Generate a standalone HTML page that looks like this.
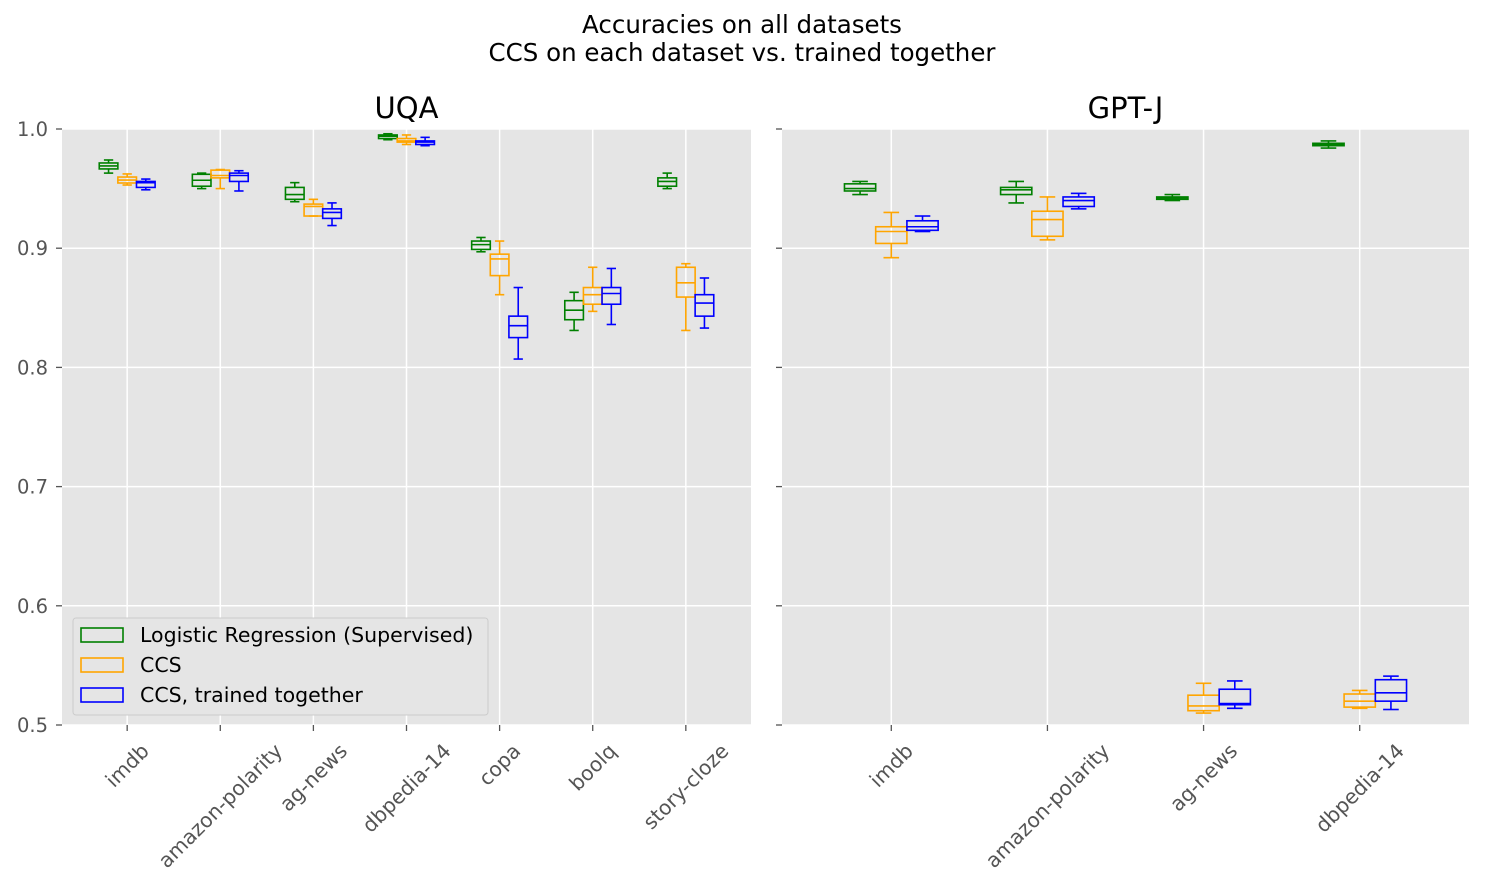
<!DOCTYPE html>
<html><head><meta charset="utf-8"><style>
body{margin:0;background:#fff;}
svg text{font-family:"DejaVu Sans","Liberation Sans",sans-serif;}
</style></head><body>
<svg id="chart" width="1485" height="889" xmlns="http://www.w3.org/2000/svg"></svg>
<script>
const uqaCategories=["imdb","amazon-polarity","ag-news","dbpedia-14","copa","boolq","story-cloze"];
const gptjCategories=["imdb","amazon-polarity","ag-news","dbpedia-14"];
const seriesNames=["Logistic Regression (Supervised)","CCS","CCS, trained together"];
const seriesColors=["green","orange","blue"];
const yTicks=[0.5,0.6,0.7,0.8,0.9,1.0];
const yTickLabels=["0.5","0.6","0.7","0.8","0.9","1.0"];
// [whiskerLow, q1, median, q3, whiskerHigh]
const uqaLR=[[.963,.9665,.969,.9715,.974],[.950,.952,.957,.962,.963],[.939,.941,.945,.951,.955],[.991,.992,.994,.995,.996],[.897,.899,.903,.906,.909],[.831,.840,.848,.856,.863],[.950,.952,.956,.959,.963]];
const uqaCCS=[[.953,.9547,.9572,.9597,.9623],[.950,.959,.961,.9655,.966],[.927,.927,.935,.937,.941],[.987,.989,.990,.992,.995],[.861,.877,.891,.895,.906],[.847,.853,.861,.867,.884],[.831,.859,.871,.884,.887]];
const uqaTog=[[.949,.951,.955,.956,.958],[.948,.956,.961,.963,.965],[.919,.925,.930,.933,.938],[.986,.987,.989,.990,.993],[.807,.825,.835,.843,.867],[.836,.853,.862,.867,.883],[.833,.843,.854,.861,.875]];
const gptLR=[[.945,.948,.950,.954,.956],[.938,.945,.949,.951,.956],[.940,.941,.942,.943,.945],[.984,.986,.987,.988,.990]];
const gptCCS=[[.892,.904,.914,.918,.930],[.907,.910,.924,.931,.943],[.510,.512,.516,.525,.535],[.514,.515,.520,.526,.529]];
const gptTog=[[.914,.915,.918,.923,.927],[.933,.935,.940,.943,.946],[.514,.517,.518,.530,.537],[.513,.520,.527,.538,.541]];

const NS="http://www.w3.org/2000/svg";
const svg=document.getElementById('chart');
function el(t,a,p){const e=document.createElementNS(NS,t);for(const k in a)e.setAttribute(k,a[k]);(p||svg).appendChild(e);return e;}
const yTop=129,yBot=725;
function yS(v){return yBot-(v-0.5)/0.5*(yBot-yTop);}

function txt(x,y,s,size,anchor,name,fill,rot){
  const e=el('text',{x:x,y:y,'font-size':size,'text-anchor':anchor,fill:fill||'#000'});
  if(rot)e.setAttribute('transform',rot);
  e.textContent=s;
  
  
  return e;
}
txt(742,33,"Accuracies on all datasets",24.5,"middle","chart-title");
txt(742,61,"CCS on each dataset vs. trained together",24.5,"middle","chart-subtitle");

function panel(x0,x1,title,cats,series,showY,name){
  const g=el('g',{});
  
  
  const bg=el('rect',{x:x0,y:yTop,width:x1-x0,height:yBot-yTop,fill:'#e5e5e5'},g);
  
  
  const step=(x1-x0)/(cats.length-1+1.4);
  const xS=i=>x0+step*(0.7+i);
  const off=step*0.2, bw=step*0.2;
  yTicks.forEach((v,i)=>{
    const gl=el('line',{x1:x0,x2:x1,y1:yS(v),y2:yS(v),stroke:'#fff','stroke-width':1.5},g);
    
    
    el('line',{x1:x0-6,x2:x0,y1:yS(v),y2:yS(v),stroke:'#555','stroke-width':1.3},g);
    if(showY){const tl=txt(x0-14,yS(v)+7,yTickLabels[i],19.5,"end","y-tick-label","#555");g.appendChild(tl);}
  });
  cats.forEach((c,i)=>{
    const gl=el('line',{x1:xS(i),x2:xS(i),y1:yTop,y2:yBot,stroke:'#fff','stroke-width':1.5},g);
    
    
    el('line',{x1:xS(i),x2:xS(i),y1:yBot,y2:yBot+6,stroke:'#555','stroke-width':1.3},g);
    const tl=txt(0,0,c,20.3,"middle","x-tick-label","#555");
    tl.setAttribute('dominant-baseline','central');
    g.appendChild(tl);
    const L=tl.getComputedTextLength();
    const cy=741+(L+18)*0.707/2;
    tl.setAttribute('x',xS(i));
    tl.setAttribute('y',cy);
    tl.setAttribute('transform',`rotate(-45 ${xS(i)} ${cy})`);
  });
  series.forEach((s,si)=>{
    s.forEach((d,i)=>{
      const cx=xS(i)+(si-1)*off, col=seriesColors[si];
      const bg2=el('g',{fill:'none',stroke:col,'stroke-width':1.6},g);
      
      
      el('line',{x1:cx,x2:cx,y1:yS(d[0]),y2:yS(d[1])},bg2);
      el('line',{x1:cx,x2:cx,y1:yS(d[3]),y2:yS(d[4])},bg2);
      el('line',{x1:cx-bw/4,x2:cx+bw/4,y1:yS(d[0]),y2:yS(d[0])},bg2);
      el('line',{x1:cx-bw/4,x2:cx+bw/4,y1:yS(d[4]),y2:yS(d[4])},bg2);
      el('rect',{x:cx-bw/2,y:yS(d[3]),width:bw,height:Math.max(0.5,yS(d[1])-yS(d[3]))},bg2);
      el('line',{x1:cx-bw/2,x2:cx+bw/2,y1:yS(d[2]),y2:yS(d[2])},bg2);
    });
  });
  const tt=txt((x0+x1)/2,118,title,29,"middle","panel-title");
  g.appendChild(tt);
  return g;
}
panel(62,751,"UQA",uqaCategories,[uqaLR,uqaCCS,uqaTog],true,"uqa-panel");
panel(782,1469,"GPT-J",gptjCategories,[gptLR,gptCCS,gptTog],false,"gptj-panel");

const lg=el('g',{});


el('rect',{x:73,y:618,width:415,height:97,fill:'#e5e5e5',stroke:'#ccc','stroke-width':1,rx:3},lg);
seriesNames.forEach((n,i)=>{
  const y=635+i*30;
  const r=el('rect',{x:81,y:y-7,width:42,height:14,fill:'none',stroke:seriesColors[i],'stroke-width':1.6},lg);
  
  
  const t=txt(140,y+7,n,20.5,"start","legend-entry");
  lg.appendChild(t);
});
</script>
</body></html>
